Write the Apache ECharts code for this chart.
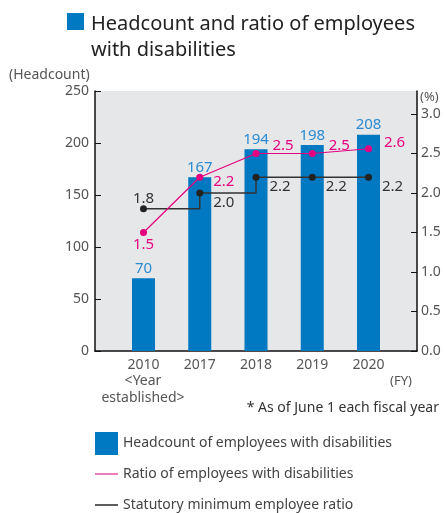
<!DOCTYPE html>
<html>
<head>
    <meta charset="utf-8">
    <title>index</title>
    <style>
        html, body { margin: 0; padding: 0; background: #fff; }
        #container { width: 444px; height: 513px; }
    </style>
</head>
<body>
    <div id="container"></div>
</body>
<script src="https://cdn.jsdelivr.net/npm/echarts@6/dist/echarts.min.js"></script>
<script type="text/javascript">
    // data
    var years = ['2010', '2017', '2018', '2019', '2020'];
    var yearNote = '<Year\nestablished>';
    var headcount = [70, 167, 194, 198, 208];
    var ratio = [1.5, 2.2, 2.5, 2.5, 2.56];
    var statutory = [1.8, 2.0, 2.2, 2.2, 2.2];
    var leftTicks = [0, 50, 100, 150, 200, 250];
    var rightTicks = [0, 0.5, 1.0, 1.5, 2.0, 2.5, 3.0];

    var FONT = '"Noto Sans", sans-serif';
    var BLUE = '#0079c2';
    var PINK = '#e5007f';
    var DARK = '#222';
    var GREY = '#555';

    var NAME_BAR = 'Headcount of employees with disabilities';
    var NAME_RATIO = 'Ratio of employees with disabilities';
    var NAME_STAT = 'Statutory minimum employee ratio';

    // label offsets (px) for the line points
    var ratioOffsets = [[0, 12], [24, 5], [27, -8], [27, -8], [26, -6]];
    var statOffsets = [[0, -10], [24, 10], [24, 10], [24, 10], [24, 10]];

    function idx(arr) {
        return arr.map(function (v, i) { return [i, v]; });
    }

    function lineData(arr, offsets, color) {
        return arr.map(function (v, i) {
            return {
                value: [i, v],
                label: {
                    show: true,
                    position: 'inside',
                    offset: offsets[i],
                    color: color,
                    fontSize: 15,
                    fontFamily: FONT,
                    formatter: function (p) { return p.value[1].toFixed(1); }
                }
            };
        });
    }

    function legendAt(top, item) {
        return {
            orient: 'vertical',
            left: 95, top: top,
            padding: 0,
            itemWidth: 23, itemHeight: 23,
            textStyle: { fontSize: 14, color: '#444', fontFamily: FONT },
            data: [item]
        };
    }

    var dom = document.getElementById('container');
    var myChart = echarts.init(dom, null, { renderer: 'canvas' });

    var option = {
        animation: false,
        backgroundColor: '#fff',
        textStyle: { fontFamily: FONT },
        title: [
            {
                text: 'Headcount and ratio of employees\nwith disabilities',
                left: 86, top: 6,
                textStyle: { fontSize: 20, lineHeight: 26, color: '#222', fontWeight: 'normal', fontFamily: FONT }
            },
            {
                text: '(Headcount)', left: 4, top: 63,
                textStyle: { fontSize: 14, color: GREY, fontWeight: 'normal', fontFamily: FONT }
            },
            {
                text: '(%)', left: 415, top: 86,
                textStyle: { fontSize: 13, color: GREY, fontWeight: 'normal', fontFamily: FONT }
            },
            {
                text: '(FY)', left: 385, top: 370,
                textStyle: { fontSize: 13, color: GREY, fontWeight: 'normal', fontFamily: FONT }
            },
            {
                text: '* As of June 1 each fiscal year', right: 0, top: 396,
                textStyle: { fontSize: 14, color: '#333', fontWeight: 'normal', fontFamily: FONT }
            }
        ],
        graphic: [
            { type: 'rect', left: 67, top: 13, shape: { width: 17, height: 17 }, style: { fill: BLUE } },
            {
                type: 'text', x: 143, y: 373,
                style: { text: yearNote, align: 'center', verticalAlign: 'top', fill: GREY, fontSize: 14, lineHeight: 17, fontFamily: FONT }
            }
        ],
        legend: [
            legendAt(432, { name: NAME_BAR, icon: 'rect' }),
            legendAt(467, { name: NAME_RATIO, icon: 'path://M0,0h22v1h-22z' }),
            legendAt(498, { name: NAME_STAT, icon: 'path://M0,0h22v1.4h-22z' })
        ],
        grid: {
            left: 95, right: 27, top: 91, bottom: 162,
            show: true, backgroundColor: '#e6e7e9', borderWidth: 0
        },
        xAxis: {
            type: 'value',
            min: -0.862, max: 4.862,
            splitLine: { show: false },
            axisTick: { show: false },
            axisLine: { show: true, onZero: false, lineStyle: { color: '#111', width: 1.5 } },
            axisLabel: {
                customValues: [0, 1, 2, 3, 4],
                showMinLabel: true, showMaxLabel: true, hideOverlap: false,
                formatter: function (v) { return years[Math.round(v)]; },
                color: GREY, fontSize: 14, lineHeight: 17, margin: 6, fontFamily: FONT
            }
        },
        yAxis: [
            {
                type: 'value',
                min: 0, max: 250, interval: 50,
                splitLine: { show: false },
                axisLine: { show: true, onZero: false, lineStyle: { color: '#111', width: 1.5 } },
                axisTick: { show: true, inside: true, length: 6, lineStyle: { color: '#111' } },
                axisLabel: {
                    customValues: leftTicks,
                    color: GREY, fontSize: 14, margin: 6, fontFamily: FONT
                }
            },
            {
                type: 'value',
                position: 'right',
                min: 0, max: 260 / 79,
                splitLine: { show: false },
                axisLine: { show: true, onZero: false, lineStyle: { color: '#111', width: 1.5 } },
                axisTick: { show: true, inside: true, length: 6, customValues: rightTicks, lineStyle: { color: '#111' } },
                axisLabel: {
                    customValues: rightTicks,
                    formatter: function (v) { return v.toFixed(1); },
                    color: GREY, fontSize: 14, margin: 4, fontFamily: FONT
                }
            }
        ],
        series: [
            {
                name: NAME_BAR,
                type: 'bar',
                yAxisIndex: 0,
                barWidth: 23,
                itemStyle: { color: BLUE },
                label: {
                    show: true, position: 'top', distance: 2,
                    color: '#2a8bd2', fontSize: 15, fontFamily: FONT,
                    formatter: function (p) { return p.value[1]; }
                },
                data: idx(headcount)
            },
            {
                name: NAME_STAT,
                type: 'line',
                yAxisIndex: 1,
                step: 'end',
                symbol: 'circle', symbolSize: 7,
                itemStyle: { color: DARK },
                lineStyle: { color: '#333', width: 1.5 },
                z: 3,
                data: lineData(statutory, statOffsets, '#333')
            },
            {
                name: NAME_RATIO,
                type: 'line',
                yAxisIndex: 1,
                symbol: 'circle', symbolSize: 7,
                itemStyle: { color: PINK },
                lineStyle: { color: PINK, width: 1.2 },
                z: 4,
                data: lineData(ratio, ratioOffsets, PINK)
            }
        ]
    };

    if (option && typeof option === 'object') {
        myChart.setOption(option, true);
    }
</script>
</html>
